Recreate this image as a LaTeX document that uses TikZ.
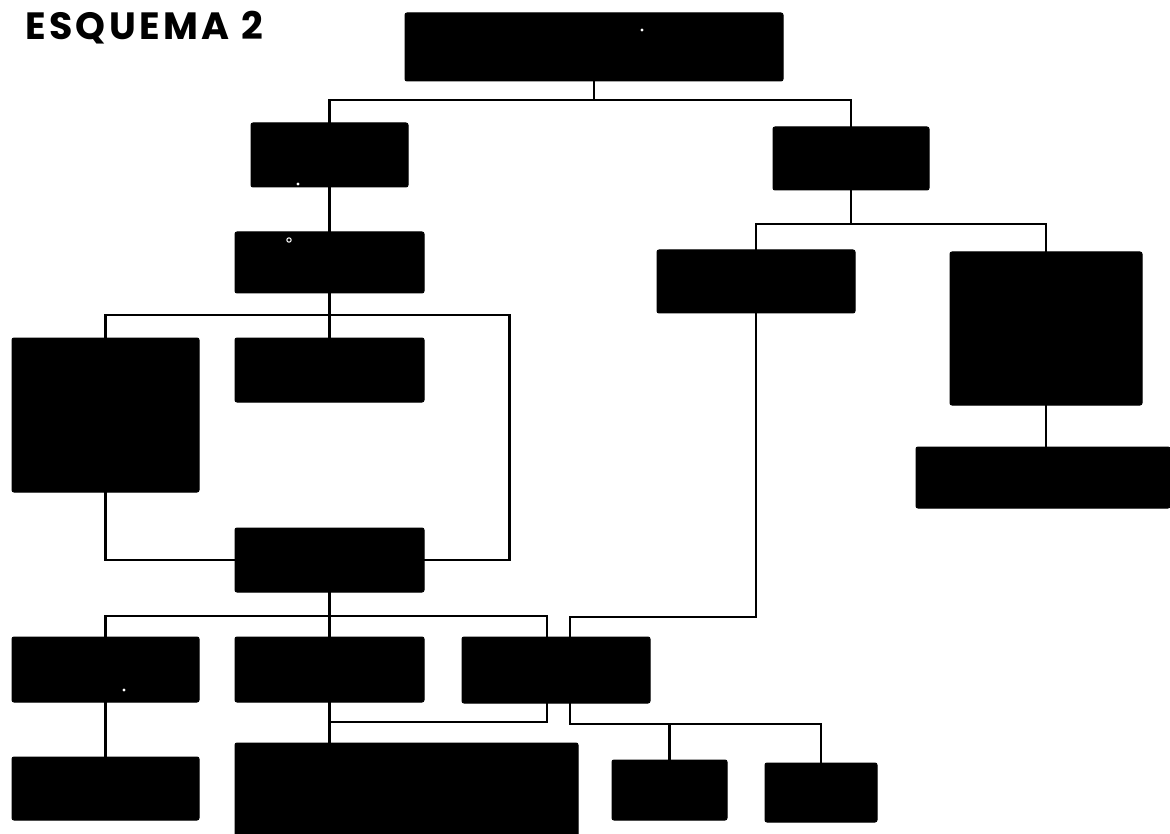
\documentclass[tikz,border=0pt]{standalone}
\usepackage{fontspec}
\newfontfamily\titlefont[LetterSpace=9]{Poppins}
\begin{document}
\begin{tikzpicture}[x=1pt,y=-1pt,
  bx/.style={draw=black,fill=black,line width=1pt,rounded corners=2pt,inner sep=0pt,outer sep=0pt},
  ln/.style={draw=black,line width=2.2pt,line join=miter,line cap=rect}]
\useasboundingbox (0,0) rectangle (1170,834);
\node[anchor=base west,inner sep=0pt,font=\titlefont\bfseries\fontsize{38}{38}\selectfont] (title) at (25,40) {ESQUEMA 2};
% boxes
\node[bx,minimum width=378,minimum height=68] (top) at (594,47) {};
\node[bx,minimum width=157,minimum height=64] (A) at (329.5,155) {};
\node[bx,minimum width=156,minimum height=63] (B) at (851,158.5) {};
\node[bx,minimum width=189,minimum height=61] (C) at (329.5,262.5) {};
\node[bx,minimum width=198,minimum height=63] (D) at (756,281.5) {};
\node[bx,minimum width=192,minimum height=153] (E) at (1046,328.5) {};
\node[bx,minimum width=254,minimum height=61] (F) at (1043,477.5) {};
\node[bx,minimum width=187,minimum height=154] (G) at (105.5,415) {};
\node[bx,minimum width=189,minimum height=64] (H) at (329.5,370) {};
\node[bx,minimum width=189,minimum height=64] (I) at (329.5,560) {};
\node[bx,minimum width=187,minimum height=65] (J) at (105.5,669.5) {};
\node[bx,minimum width=189,minimum height=65] (K) at (329.5,669.5) {};
\node[bx,minimum width=188,minimum height=66] (L) at (556,670) {};
\node[bx,minimum width=187,minimum height=63] (M) at (105.5,788.5) {};
\node[bx,minimum width=343,minimum height=95] (N) at (406.5,790.5) {};
\node[bx,minimum width=115,minimum height=60] (O) at (669.5,790) {};
\node[bx,minimum width=112,minimum height=59] (P) at (821,792.5) {};
% small white specks
\fill[white] (642,30) circle (1.6);
\fill[white] (298,184) circle (1.6);
\draw[white,line width=1pt] (289,240) circle (2.2);
\fill[white] (124,690) circle (1.6);
% connectors
\draw[ln] (top.south) -- ++(0,19) coordinate (t1);
\draw[ln] (A.north) |- (t1) -| (B.north);
\draw[ln] (A.south) -- (C.north);
\draw[ln] (B.south) -- ++(0,34) coordinate (b1);
\draw[ln] (D.north) |- (b1) -| (E.north);
\draw[ln] (E.south) -- (E.south |- F.north);
\draw[ln] (C.south) -- ++(0,22) coordinate (c1);
\draw[ln] (G.north) |- (c1) -- ++(180,0) coordinate (c2) |- (I.east);
\draw[ln] (c1) -- (H.north);
\draw[ln] (G.south) |- (I.west);
\draw[ln] (I.south) -- ++(0,24) coordinate (i1);
\draw[ln] (J.north) |- (i1) -- (K.north);
\draw[ln] (i1) -| ([xshift=-9pt]L.north);
\draw[ln] (D.south) -- ++(0,304) -| ([xshift=14pt]L.north);
\draw[ln] (K.south) -- ++(0,20) coordinate (k1);
\draw[ln] (k1) -- (k1 |- N.north);
\draw[ln] ([xshift=-9pt]L.south) |- (k1);
\draw[ln] ([xshift=14pt]L.south) -- ++(0,21) coordinate (l1);
\draw[ln] (l1) -| (P.north);
\draw[ln] (O.north) -- (O.north |- l1);
\draw[ln] (J.south) -- (M.north);
\end{tikzpicture}
\end{document}
